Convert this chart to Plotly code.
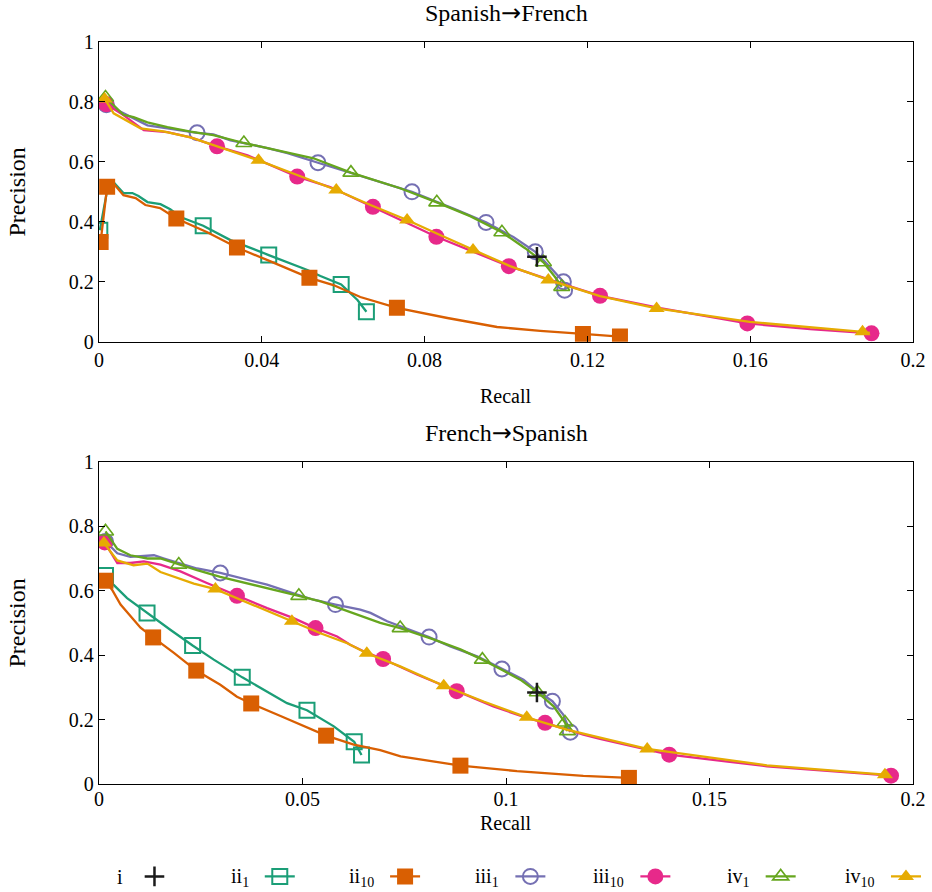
import plotly.graph_objects as go

# ---------------- data ----------------
# Spanish -> French (top panel)
ES_I_X = [0.1076]
ES_I_Y = [0.283]

ES_II1_X = [0.0002, 0.0023, 0.0036, 0.006, 0.0082, 0.0097, 0.0119, 0.0151, 0.0175, 0.02, 0.0256,
            0.0323, 0.0417, 0.0512, 0.0544, 0.0595, 0.0635, 0.0657]
ES_II1_Y = [0.372, 0.526, 0.532, 0.496, 0.496, 0.486, 0.466, 0.459, 0.442, 0.416, 0.387,
            0.339, 0.289, 0.239, 0.219, 0.191, 0.139, 0.1]
ES_II1_MX = [0.0002, 0.0256, 0.0417, 0.0595, 0.0657]
ES_II1_MY = [0.372, 0.387, 0.289, 0.191, 0.1]

ES_II10_X = [0.0004, 0.002, 0.0033, 0.006, 0.009, 0.0114, 0.015, 0.019, 0.0266, 0.0339, 0.0414,
             0.047, 0.0517, 0.0576, 0.0642, 0.0732, 0.0856, 0.0978, 0.1084, 0.1189, 0.128]
ES_II10_Y = [0.333, 0.517, 0.532, 0.489, 0.479, 0.456, 0.446, 0.411, 0.365, 0.314, 0.272,
             0.239, 0.213, 0.189, 0.149, 0.113, 0.079, 0.049, 0.036, 0.026, 0.017]
ES_II10_MX = [0.0004, 0.002, 0.019, 0.0339, 0.0517, 0.0732, 0.1189, 0.128]
ES_II10_MY = [0.333, 0.517, 0.411, 0.314, 0.213, 0.113, 0.026, 0.017]

ES_III1_X = [0.0018, 0.006, 0.0119, 0.0168, 0.0241, 0.0281, 0.0323, 0.0414, 0.0463, 0.0538, 0.061,
             0.0691, 0.0769, 0.088, 0.0951, 0.1018, 0.1072, 0.1108, 0.1141, 0.1147, 0.1144]
ES_III1_Y = [0.791, 0.762, 0.722, 0.712, 0.697, 0.692, 0.672, 0.646, 0.629, 0.597, 0.566,
             0.532, 0.5, 0.439, 0.398, 0.349, 0.3, 0.249, 0.2, 0.185, 0.172]
ES_III1_MX = [0.0018, 0.0241, 0.0538, 0.0769, 0.0951, 0.1072, 0.1141, 0.1144]
ES_III1_MY = [0.791, 0.697, 0.597, 0.5, 0.398, 0.3, 0.2, 0.172]

ES_III10_X = [0.0018, 0.006, 0.011, 0.0168, 0.0225, 0.029, 0.0365, 0.0487, 0.0568, 0.0673, 0.0829,
              0.1007, 0.1108, 0.1231, 0.1379, 0.1593, 0.1747, 0.1898]
ES_III10_Y = [0.792, 0.756, 0.706, 0.699, 0.682, 0.652, 0.622, 0.551, 0.516, 0.45, 0.35,
              0.252, 0.206, 0.153, 0.112, 0.061, 0.042, 0.028]
ES_III10_MX = [0.0018, 0.029, 0.0487, 0.0673, 0.0829, 0.1007, 0.1231, 0.1593, 0.1898]
ES_III10_MY = [0.792, 0.652, 0.551, 0.45, 0.35, 0.252, 0.153, 0.061, 0.028]

ES_IV1_X = [0.0016, 0.006, 0.0085, 0.0119, 0.0168, 0.0225, 0.0281, 0.0356, 0.0414, 0.0527, 0.0619,
            0.074, 0.083, 0.0912, 0.099, 0.1047, 0.1092, 0.1121, 0.1137]
ES_IV1_Y = [0.815, 0.757, 0.749, 0.732, 0.716, 0.701, 0.689, 0.663, 0.646, 0.612, 0.564,
            0.512, 0.465, 0.419, 0.365, 0.312, 0.265, 0.215, 0.183]
ES_IV1_MX = [0.0016, 0.0356, 0.0619, 0.083, 0.099, 0.1092, 0.1137]
ES_IV1_MY = [0.815, 0.663, 0.564, 0.465, 0.365, 0.265, 0.183]

ES_IV10_X = [0.0014, 0.0036, 0.0102, 0.0158, 0.0225, 0.0298, 0.0392, 0.0495, 0.0583, 0.0667, 0.0757,
             0.0838, 0.0919, 0.101, 0.1104, 0.1231, 0.137, 0.1599, 0.1876, 0.1894]
ES_IV10_Y = [0.81, 0.762, 0.712, 0.702, 0.682, 0.649, 0.605, 0.552, 0.506, 0.456, 0.406,
             0.356, 0.306, 0.252, 0.206, 0.152, 0.111, 0.066, 0.033, 0.029]
ES_IV10_MX = [0.0014, 0.0392, 0.0583, 0.0757, 0.0919, 0.1104, 0.137, 0.1876]
ES_IV10_MY = [0.81, 0.605, 0.506, 0.406, 0.306, 0.206, 0.111, 0.033]

# French -> Spanish (bottom panel)
FR_I_X = [0.1076]
FR_I_Y = [0.284]

FR_II1_X = [0.0016, 0.0036, 0.0069, 0.0118, 0.0176, 0.023, 0.0282, 0.0352, 0.0413, 0.0462, 0.0511,
            0.0577, 0.0627, 0.0645]
FR_II1_Y = [0.647, 0.618, 0.577, 0.531, 0.478, 0.43, 0.386, 0.331, 0.287, 0.251, 0.229,
            0.179, 0.131, 0.09]
FR_II1_MX = [0.0016, 0.0118, 0.023, 0.0352, 0.0511, 0.0627, 0.0645]
FR_II1_MY = [0.647, 0.531, 0.43, 0.331, 0.229, 0.131, 0.09]

FR_II10_X = [0.0016, 0.0032, 0.0053, 0.0077, 0.0102, 0.0133, 0.0184, 0.0239, 0.0298, 0.0339, 0.0374,
             0.0446, 0.0511, 0.0558, 0.0626, 0.0691, 0.0741, 0.0888, 0.1027, 0.119, 0.1302]
FR_II10_Y = [0.631, 0.603, 0.557, 0.521, 0.485, 0.455, 0.407, 0.352, 0.308, 0.271, 0.25,
             0.211, 0.175, 0.15, 0.122, 0.105, 0.086, 0.057, 0.04, 0.025, 0.019]
FR_II10_MX = [0.0016, 0.0133, 0.0239, 0.0374, 0.0558, 0.0888, 0.1302]
FR_II10_MY = [0.631, 0.455, 0.352, 0.25, 0.15, 0.057, 0.019]

FR_III1_X = [0.0016, 0.0045, 0.0077, 0.0135, 0.016, 0.02, 0.0241, 0.0298, 0.0364, 0.0413, 0.0487,
             0.0527, 0.0581, 0.0642, 0.0667, 0.0691, 0.0708, 0.0811, 0.0863, 0.0929, 0.099,
             0.1043, 0.1072, 0.1114, 0.1141, 0.1158]
FR_III1_Y = [0.753, 0.716, 0.705, 0.71, 0.7, 0.685, 0.669, 0.655, 0.634, 0.619, 0.588,
             0.572, 0.557, 0.541, 0.531, 0.515, 0.505, 0.456, 0.427, 0.396, 0.357,
             0.324, 0.293, 0.257, 0.215, 0.161]
FR_III1_MX = [0.0016, 0.0298, 0.0581, 0.0811, 0.099, 0.1114, 0.1158]
FR_III1_MY = [0.753, 0.655, 0.557, 0.456, 0.357, 0.257, 0.161]

FR_III10_X = [0.0014, 0.0045, 0.0077, 0.011, 0.0151, 0.02, 0.0265, 0.0339, 0.0413, 0.0478, 0.0532,
              0.0585, 0.0617, 0.065, 0.0698, 0.0781, 0.0879, 0.0969, 0.1051, 0.1096, 0.119,
              0.1231, 0.1401, 0.1641, 0.1946]
FR_III10_Y = [0.75, 0.686, 0.686, 0.691, 0.681, 0.66, 0.624, 0.584, 0.546, 0.515, 0.484,
              0.458, 0.432, 0.412, 0.388, 0.34, 0.288, 0.241, 0.205, 0.19, 0.153,
              0.14, 0.091, 0.055, 0.026]
FR_III10_MX = [0.0014, 0.0339, 0.0532, 0.0698, 0.0879, 0.1096, 0.1401, 0.1946]
FR_III10_MY = [0.75, 0.584, 0.484, 0.388, 0.288, 0.19, 0.091, 0.026]

FR_IV1_X = [0.0016, 0.0045, 0.0077, 0.0119, 0.0151, 0.0196, 0.0241, 0.0298, 0.0364, 0.0421, 0.0491,
            0.0544, 0.061, 0.0691, 0.074, 0.0822, 0.0888, 0.0942, 0.0986, 0.1035, 0.1077,
            0.1117, 0.1145, 0.1151]
FR_IV1_Y = [0.784, 0.73, 0.71, 0.7, 0.7, 0.681, 0.664, 0.643, 0.623, 0.607, 0.584,
            0.567, 0.536, 0.5, 0.484, 0.449, 0.418, 0.386, 0.357, 0.324, 0.285,
            0.241, 0.191, 0.164]
FR_IV1_MX = [0.0016, 0.0196, 0.0491, 0.074, 0.0942, 0.1077, 0.1145, 0.1151]
FR_IV1_MY = [0.784, 0.681, 0.584, 0.484, 0.386, 0.285, 0.191, 0.164]

FR_IV10_X = [0.0012, 0.0045, 0.0085, 0.0119, 0.0151, 0.02, 0.0233, 0.0286, 0.0347, 0.0413, 0.0474,
             0.0544, 0.061, 0.0658, 0.074, 0.0847, 0.0945, 0.1051, 0.1149, 0.1347, 0.1641, 0.1931]
FR_IV10_Y = [0.748, 0.694, 0.679, 0.684, 0.658, 0.637, 0.622, 0.605, 0.573, 0.537, 0.505,
             0.468, 0.437, 0.406, 0.365, 0.305, 0.256, 0.207, 0.169, 0.109, 0.058, 0.029]
FR_IV10_MX = [0.0012, 0.0286, 0.0474, 0.0658, 0.0847, 0.1051, 0.1347, 0.1931]
FR_IV10_MY = [0.748, 0.605, 0.505, 0.406, 0.305, 0.207, 0.109, 0.029]

# labels / ticks
PANEL_TITLES = ["Spanish<span style=\"font-family:DejaVu Sans\">→</span>French",
                "French<span style=\"font-family:DejaVu Sans\">→</span>Spanish"]
SERIES_LABELS = ["i", "ii<sub>1</sub>", "ii<sub>10</sub>", "iii<sub>1</sub>",
                 "iii<sub>10</sub>", "iv<sub>1</sub>", "iv<sub>10</sub>"]
X_TITLE = "Recall"
Y_TITLE = "Precision"
TOP_XTICKS = [0, 0.04, 0.08, 0.12, 0.16, 0.2]
TOP_XTICKTEXT = ["0", "0.04", "0.08", "0.12", "0.16", "0.2"]
BOT_XTICKS = [0, 0.05, 0.1, 0.15, 0.2]
BOT_XTICKTEXT = ["0", "0.05", "0.1", "0.15", "0.2"]
YTICKS = [0, 0.2, 0.4, 0.6, 0.8, 1]
YTICKTEXT = ["0", "0.2", "0.4", "0.6", "0.8", "1"]

# ---------------- styling ----------------
FONT = "Liberation Serif"
FS = 20
COLORS = ["#1a1a1a", "#1b9e77", "#d95f02", "#7570b3", "#e7298a", "#66a61e", "#e6ab02"]
SYMBOLS = ["cross-thin", "square-open", "square", "circle-open", "circle",
           "triangle-up-open", "triangle-up"]
MSIZES = [14, 15, 16, 15, 16, 14, 14]
MLINE = [2.5, 2.0, 0, 2.0, 0, 1.6, 0]
LW = 2.3

W, H = 932, 892
ML, MR, MT, MB = 98.5, 19, 41.7, 107.5
PW = W - ML - MR
PH = H - MT - MB
LEG_STEP = 125.3
LEG_SYM0 = 154  # pixel centre of the first legend sample
LEG_Y = 877

def py2paper(py):
    return (H - MB - py) / PH

def px2paper(px):
    return (px - ML) / PW

fig = go.Figure()

panels = [
    ("x", "y", ES_I_X, ES_I_Y,
     [(ES_II1_X, ES_II1_Y, ES_II1_MX, ES_II1_MY), (ES_II10_X, ES_II10_Y, ES_II10_MX, ES_II10_MY),
      (ES_III1_X, ES_III1_Y, ES_III1_MX, ES_III1_MY), (ES_III10_X, ES_III10_Y, ES_III10_MX, ES_III10_MY),
      (ES_IV1_X, ES_IV1_Y, ES_IV1_MX, ES_IV1_MY), (ES_IV10_X, ES_IV10_Y, ES_IV10_MX, ES_IV10_MY)]),
    ("x2", "y2", FR_I_X, FR_I_Y,
     [(FR_II1_X, FR_II1_Y, FR_II1_MX, FR_II1_MY), (FR_II10_X, FR_II10_Y, FR_II10_MX, FR_II10_MY),
      (FR_III1_X, FR_III1_Y, FR_III1_MX, FR_III1_MY), (FR_III10_X, FR_III10_Y, FR_III10_MX, FR_III10_MY),
      (FR_IV1_X, FR_IV1_Y, FR_IV1_MX, FR_IV1_MY), (FR_IV10_X, FR_IV10_Y, FR_IV10_MX, FR_IV10_MY)]),
]

def marker(k):
    return dict(symbol=SYMBOLS[k], size=MSIZES[k], color=COLORS[k],
                line=dict(width=MLINE[k], color=COLORS[k]))

for xa, ya, ix, iy, series in panels:
    for k, (lx, ly, mx, my) in enumerate(series, start=1):
        fig.add_trace(go.Scatter(x=lx, y=ly, mode="lines", xaxis=xa, yaxis=ya,
                                 line=dict(color=COLORS[k], width=LW), showlegend=False,
                                 hoverinfo="skip"))
        fig.add_trace(go.Scatter(x=mx, y=my, mode="markers", xaxis=xa, yaxis=ya,
                                 marker=marker(k), showlegend=False))
    fig.add_trace(go.Scatter(x=ix, y=iy, mode="markers", xaxis=xa, yaxis=ya,
                             marker=marker(0), showlegend=False))

# legend-only entries (labels are drawn as text to the left of each sample)
for k in range(7):
    fig.add_trace(go.Scatter(x=[None], y=[None], mode="markers" if k == 0 else "lines+markers",
                             name="", marker=marker(k),
                             line=dict(color=COLORS[k], width=LW),
                             legend="legend" if k < 4 else "legend2"))

axis_common = dict(showline=True, linecolor="black", linewidth=1.3, mirror="ticks",
                   ticks="inside", ticklen=6, tickwidth=1.2, tickcolor="black",
                   showgrid=False, zeroline=False,
                   tickfont=dict(family=FONT, size=FS, color="black"))

top_dom = [py2paper(341.7), 1.0]
bot_dom = [0.0, py2paper(462)]

legend_common = dict(orientation="h", xanchor="left", y=py2paper(LEG_Y), yanchor="middle",
                     entrywidthmode="pixels", entrywidth=LEG_STEP - 45,
                     bgcolor="rgba(0,0,0,0)", borderwidth=0,
                     font=dict(family=FONT, size=8), itemclick=False, itemdoubleclick=False)

fig.update_layout(
    width=W, height=H,
    margin=dict(l=ML, r=MR, t=MT, b=MB, pad=0, autoexpand=False),
    paper_bgcolor="white", plot_bgcolor="white",
    font=dict(family=FONT, size=FS, color="black"),
    xaxis=dict(domain=[0, 1], anchor="y", range=[0, 0.2], tickvals=TOP_XTICKS,
               ticktext=TOP_XTICKTEXT, **axis_common),
    yaxis=dict(domain=top_dom, anchor="x", range=[0, 1], tickvals=YTICKS,
               ticktext=YTICKTEXT, title=dict(text=Y_TITLE, standoff=36), **axis_common),
    xaxis2=dict(domain=[0, 1], anchor="y2", range=[0, 0.2], tickvals=BOT_XTICKS,
                ticktext=BOT_XTICKTEXT, ticklabelstandoff=-3, **axis_common),
    yaxis2=dict(domain=bot_dom, anchor="x2", range=[0, 1], tickvals=YTICKS,
                ticktext=YTICKTEXT, title=dict(text=Y_TITLE, standoff=36), **axis_common),
    legend=dict(x=px2paper(LEG_SYM0 - 20), **legend_common),
    legend2=dict(x=px2paper(LEG_SYM0 - 20 + 4 * LEG_STEP), **legend_common),
    showlegend=True,
)

annotations = []
for txt, py in zip(PANEL_TITLES, [13, 433]):
    annotations.append(dict(text=txt, x=0.5, y=py2paper(py), xref="paper", yref="paper",
                            showarrow=False, xanchor="center", yanchor="middle",
                            font=dict(family=FONT, size=FS + 4, color="black")))
for py in [396, 824]:
    annotations.append(dict(text=X_TITLE, x=0.5, y=py2paper(py), xref="paper", yref="paper",
                            showarrow=False, xanchor="center", yanchor="middle",
                            font=dict(family=FONT, size=FS, color="black")))
for k, lab in enumerate(SERIES_LABELS):
    annotations.append(dict(text=lab, x=px2paper(LEG_SYM0 - 29 + LEG_STEP * k), y=py2paper(LEG_Y + 1),
                            xref="paper", yref="paper", showarrow=False,
                            xanchor="right", yanchor="middle",
                            font=dict(family=FONT, size=FS, color="black")))
fig.update_layout(annotations=annotations)

fig.write_html("out.html", config={"displayModeBar": False},
               post_script="document.body.style.margin='0';")
